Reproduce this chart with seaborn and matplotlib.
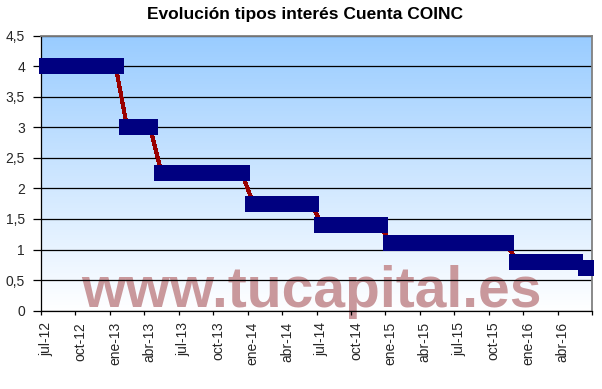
import numpy as np
import pandas as pd
import matplotlib
matplotlib.use("Agg")
import matplotlib.pyplot as plt
import matplotlib.transforms as mtransforms
from matplotlib.colors import LinearSegmentedColormap
import seaborn as sns

# ---------------- data ----------------
months = ["jul-12", "ago-12", "sep-12", "oct-12", "nov-12", "dic-12",
          "ene-13", "feb-13", "mar-13", "abr-13", "may-13", "jun-13",
          "jul-13", "ago-13", "sep-13", "oct-13", "nov-13", "dic-13",
          "ene-14", "feb-14", "mar-14", "abr-14", "may-14", "jun-14",
          "jul-14", "ago-14", "sep-14", "oct-14", "nov-14", "dic-14",
          "ene-15", "feb-15", "mar-15", "abr-15", "may-15", "jun-15",
          "jul-15", "ago-15", "sep-15", "oct-15", "nov-15", "dic-15",
          "ene-16", "feb-16", "mar-16", "abr-16", "may-16", "jun-16"]

rates = [4.0, 4.0, 4.0, 4.0, 4.0, 4.0,
         4.0, 3.0, 3.0, 3.0, 2.25, 2.25,
         2.25, 2.25, 2.25, 2.25, 2.25, 2.25,
         1.75, 1.75, 1.75, 1.75, 1.75, 1.75,
         1.4, 1.4, 1.4, 1.4, 1.4, 1.4,
         1.1, 1.1, 1.1, 1.1, 1.1, 1.1,
         1.1, 1.1, 1.1, 1.1, 1.1, 0.8,
         0.8, 0.8, 0.8, 0.8, 0.8, 0.7]

x_tick_labels = ["jul-12", "oct-12", "ene-13", "abr-13", "jul-13", "oct-13",
                 "ene-14", "abr-14", "jul-14", "oct-14", "ene-15", "abr-15",
                 "jul-15", "oct-15", "ene-16", "abr-16"]

y_ticks = [0, 0.5, 1, 1.5, 2, 2.5, 3, 3.5, 4, 4.5]
y_tick_labels = ["0", "0,5", "1", "1,5", "2", "2,5", "3", "3,5", "4", "4,5"]

title = "Evolución tipos interés Cuenta COINC"
watermark = "www.tucapital.es"

# ---------------- figure ----------------
sns.set_style("white")
plt.rcParams["font.family"] = ["Liberation Sans", "DejaVu Sans"]

W, H = 602, 389
fig = plt.figure(figsize=(W / 100, H / 100), dpi=100)
left, right, top, bottom = 41, 592, 35.5, 310.7
ax = fig.add_axes([left / W, 1 - bottom / H, (right - left) / W, (bottom - top) / H])

df = pd.DataFrame({"mes": months,
                   "pos": np.arange(len(months)) + 0.5,
                   "tipo": rates})

n = len(months)

# background gradient (white at bottom -> light blue at top)
cmap = LinearSegmentedColormap.from_list("bg", ["#FFFFFF", "#99CCFF"])
grad = np.linspace(0, 1, 256).reshape(-1, 1)
ax.imshow(grad, extent=[0, n, 0, 4.5], origin="lower", aspect="auto",
          cmap=cmap, zorder=0, interpolation="bilinear")

# watermark (behind gridlines)
ax.text(311 / W, 1 - 307 / H, watermark, transform=fig.transFigure,
        ha="center", va="baseline", fontsize=41, fontweight="bold",
        color="#C9989C", zorder=0.3, clip_on=False)

sns.lineplot(data=df, x="pos", y="tipo", ax=ax, color="#990000",
             linewidth=2.2, marker="s", markersize=12,
             markerfacecolor="#000080", markeredgecolor="#000080",
             markeredgewidth=0, clip_on=False, zorder=3,
             antialiased=False)

ax.set_xlim(0, n)
ax.set_ylim(0, 4.5)
ax.set_xlabel("")
ax.set_ylabel("")

# axes styling
ax.set_axisbelow(True)
ax.yaxis.grid(True, color="black", linewidth=0.9)
ax.xaxis.grid(False)
for s in ["left", "bottom"]:
    ax.spines[s].set_color("black")
    ax.spines[s].set_linewidth(0.9)
for s in ["top", "right"]:
    ax.spines[s].set_color("#808080")
    ax.spines[s].set_linewidth(1.3)

ax.set_yticks(y_ticks)
ax.set_yticklabels(y_tick_labels)
xt = [months.index(m) for m in x_tick_labels] + [n]
ax.set_xticks(xt)
ax.set_xticklabels(x_tick_labels + [""], rotation=90, ha="center", va="top")

ax.tick_params(axis="y", direction="out", length=5.5, width=0.9,
               color="black", pad=6, labelsize=10, left=True)
ax.tick_params(axis="x", direction="out", length=3, width=0.9,
               color="black", pad=5, labelsize=10, bottom=True)

offset = mtransforms.ScaledTranslation(5 / 100, 0, fig.dpi_scale_trans)
for lab in ax.get_xticklabels():
    lab.set_transform(lab.get_transform() + offset)

fig.text(305 / W, 1 - 15 / H, title, ha="center", va="center",
         fontsize=12.5, fontweight="bold", color="black")

fig.savefig("out.png", dpi=100)
